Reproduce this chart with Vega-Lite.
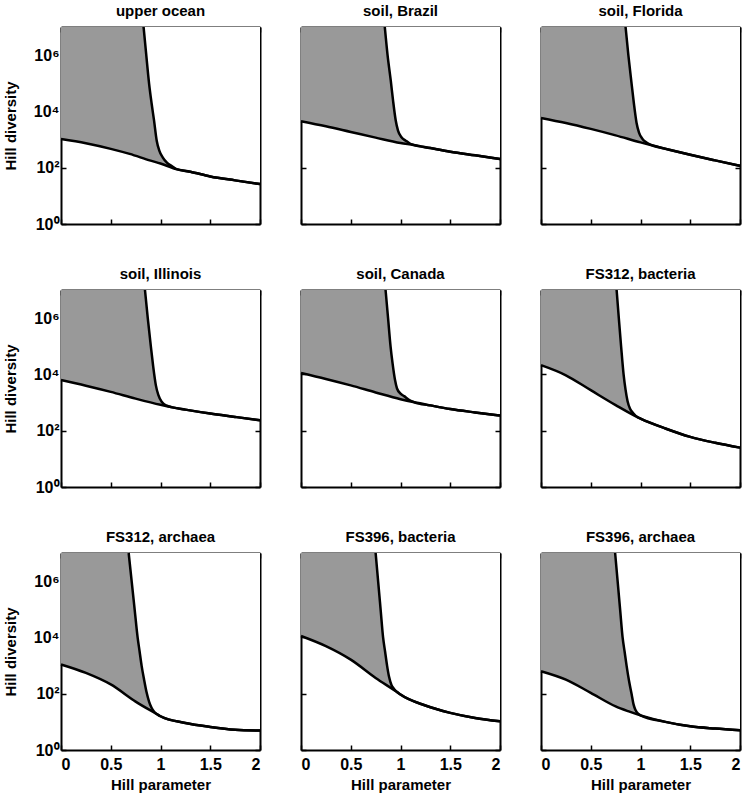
{
  "$schema": "https://vega.github.io/schema/vega-lite/v6.json",
  "padding": {"left": 3, "top": 4, "right": 2, "bottom": 2},
  "background": "white",
  "data": {"values": [
    {"p":"upper ocean","x":0,"lo":1047},
    {"p":"upper ocean","x":0.25,"lo":741},
    {"p":"upper ocean","x":0.5,"lo":468},
    {"p":"upper ocean","x":0.69,"lo":309},
    {"p":"upper ocean","x":0.9,"lo":178},
    {"p":"upper ocean","x":1,"lo":141},
    {"p":"upper ocean","x":1.16,"lo":89.1,"up":89.1},
    {"p":"upper ocean","x":1.3,"lo":72.4,"up":72.4},
    {"p":"upper ocean","x":1.5,"lo":49,"up":49},
    {"p":"upper ocean","x":1.75,"lo":35.5,"up":35.5},
    {"p":"upper ocean","x":2,"lo":26.3,"up":26.3},
    {"p":"upper ocean","x":0.83,"up":10000000},
    {"p":"upper ocean","x":0.857,"up":1000000},
    {"p":"upper ocean","x":0.885,"up":100000},
    {"p":"upper ocean","x":0.91,"up":19950},
    {"p":"upper ocean","x":0.935,"up":4786},
    {"p":"upper ocean","x":0.962,"up":912},
    {"p":"upper ocean","x":0.988,"up":407},
    {"p":"upper ocean","x":1.022,"up":234},
    {"p":"upper ocean","x":1.062,"up":155},
    {"p":"upper ocean","x":1.113,"up":115},

    {"p":"soil, Brazil","x":0,"lo":4467},
    {"p":"soil, Brazil","x":0.25,"lo":2951},
    {"p":"soil, Brazil","x":0.5,"lo":1862},
    {"p":"soil, Brazil","x":0.75,"lo":1175},
    {"p":"soil, Brazil","x":1,"lo":759},
    {"p":"soil, Brazil","x":1.13,"lo":646,"up":646},
    {"p":"soil, Brazil","x":1.3,"lo":501,"up":501},
    {"p":"soil, Brazil","x":1.5,"lo":372,"up":372},
    {"p":"soil, Brazil","x":1.75,"lo":275,"up":275},
    {"p":"soil, Brazil","x":2,"lo":204,"up":204},
    {"p":"soil, Brazil","x":0.842,"up":10000000},
    {"p":"soil, Brazil","x":0.87,"up":1000000},
    {"p":"soil, Brazil","x":0.902,"up":125900},
    {"p":"soil, Brazil","x":0.925,"up":24550},
    {"p":"soil, Brazil","x":0.952,"up":4786},
    {"p":"soil, Brazil","x":0.975,"up":2089},
    {"p":"soil, Brazil","x":1.01,"up":1202},
    {"p":"soil, Brazil","x":1.053,"up":912},
    {"p":"soil, Brazil","x":1.09,"up":741},

    {"p":"soil, Florida","x":0,"lo":5888},
    {"p":"soil, Florida","x":0.25,"lo":3890},
    {"p":"soil, Florida","x":0.5,"lo":2399},
    {"p":"soil, Florida","x":0.75,"lo":1413},
    {"p":"soil, Florida","x":1,"lo":794},
    {"p":"soil, Florida","x":1.14,"lo":589,"up":589},
    {"p":"soil, Florida","x":1.3,"lo":427,"up":427},
    {"p":"soil, Florida","x":1.5,"lo":288,"up":288},
    {"p":"soil, Florida","x":1.75,"lo":182,"up":182},
    {"p":"soil, Florida","x":2,"lo":117,"up":117},
    {"p":"soil, Florida","x":0.85,"up":10000000},
    {"p":"soil, Florida","x":0.878,"up":1000000},
    {"p":"soil, Florida","x":0.91,"up":100000},
    {"p":"soil, Florida","x":0.933,"up":19950},
    {"p":"soil, Florida","x":0.96,"up":3981},
    {"p":"soil, Florida","x":0.985,"up":1778},
    {"p":"soil, Florida","x":1.02,"up":1047},
    {"p":"soil, Florida","x":1.065,"up":776},
    {"p":"soil, Florida","x":1.1,"up":661},

    {"p":"soil, Illinois","x":0,"lo":6310},
    {"p":"soil, Illinois","x":0.25,"lo":3981},
    {"p":"soil, Illinois","x":0.5,"lo":2399},
    {"p":"soil, Illinois","x":0.75,"lo":1380},
    {"p":"soil, Illinois","x":1,"lo":832},
    {"p":"soil, Illinois","x":1.12,"lo":676,"up":676},
    {"p":"soil, Illinois","x":1.25,"lo":562,"up":562},
    {"p":"soil, Illinois","x":1.5,"lo":407,"up":407},
    {"p":"soil, Illinois","x":1.75,"lo":309,"up":309},
    {"p":"soil, Illinois","x":2,"lo":234,"up":234},
    {"p":"soil, Illinois","x":0.844,"up":10000000},
    {"p":"soil, Illinois","x":0.872,"up":1000000},
    {"p":"soil, Illinois","x":0.903,"up":100000},
    {"p":"soil, Illinois","x":0.926,"up":19950},
    {"p":"soil, Illinois","x":0.953,"up":4169},
    {"p":"soil, Illinois","x":0.978,"up":1862},
    {"p":"soil, Illinois","x":1.012,"up":1072},
    {"p":"soil, Illinois","x":1.055,"up":794},
    {"p":"soil, Illinois","x":1.09,"up":724},

    {"p":"soil, Canada","x":0,"lo":11220},
    {"p":"soil, Canada","x":0.25,"lo":6918},
    {"p":"soil, Canada","x":0.5,"lo":4074},
    {"p":"soil, Canada","x":0.75,"lo":2291},
    {"p":"soil, Canada","x":1,"lo":1318},
    {"p":"soil, Canada","x":1.14,"lo":1023,"up":1023},
    {"p":"soil, Canada","x":1.3,"lo":794,"up":794},
    {"p":"soil, Canada","x":1.5,"lo":589,"up":589},
    {"p":"soil, Canada","x":1.75,"lo":447,"up":447},
    {"p":"soil, Canada","x":2,"lo":347,"up":347},
    {"p":"soil, Canada","x":0.85,"up":10000000},
    {"p":"soil, Canada","x":0.875,"up":1000000},
    {"p":"soil, Canada","x":0.9,"up":100000},
    {"p":"soil, Canada","x":0.92,"up":25120},
    {"p":"soil, Canada","x":0.945,"up":6310},
    {"p":"soil, Canada","x":0.965,"up":3162},
    {"p":"soil, Canada","x":1,"up":2089},
    {"p":"soil, Canada","x":1.04,"up":1660},
    {"p":"soil, Canada","x":1.08,"up":1288},

    {"p":"FS312, bacteria","x":0,"lo":21380},
    {"p":"FS312, bacteria","x":0.25,"lo":9333},
    {"p":"FS312, bacteria","x":0.5,"lo":2754},
    {"p":"FS312, bacteria","x":0.75,"lo":813},
    {"p":"FS312, bacteria","x":0.97,"lo":302,"up":302},
    {"p":"FS312, bacteria","x":1,"lo":269,"up":269},
    {"p":"FS312, bacteria","x":1.25,"lo":120,"up":120},
    {"p":"FS312, bacteria","x":1.5,"lo":60.3,"up":60.3},
    {"p":"FS312, bacteria","x":1.75,"lo":37.2,"up":37.2},
    {"p":"FS312, bacteria","x":2,"lo":25.1,"up":25.1},
    {"p":"FS312, bacteria","x":0.76,"up":10000000},
    {"p":"FS312, bacteria","x":0.782,"up":1000000},
    {"p":"FS312, bacteria","x":0.805,"up":100000},
    {"p":"FS312, bacteria","x":0.83,"up":10000},
    {"p":"FS312, bacteria","x":0.85,"up":2818},
    {"p":"FS312, bacteria","x":0.87,"up":1122},
    {"p":"FS312, bacteria","x":0.895,"up":603},
    {"p":"FS312, bacteria","x":0.925,"up":427},

    {"p":"FS312, archaea","x":0,"lo":1096},
    {"p":"FS312, archaea","x":0.25,"lo":550},
    {"p":"FS312, archaea","x":0.5,"lo":214},
    {"p":"FS312, archaea","x":0.75,"lo":52.5},
    {"p":"FS312, archaea","x":0.98,"lo":17.4,"up":17.4},
    {"p":"FS312, archaea","x":1,"lo":15.8,"up":15.8},
    {"p":"FS312, archaea","x":1.25,"lo":9.12,"up":9.12},
    {"p":"FS312, archaea","x":1.5,"lo":6.61,"up":6.61},
    {"p":"FS312, archaea","x":1.75,"lo":5.25,"up":5.25},
    {"p":"FS312, archaea","x":2,"lo":4.9,"up":4.9},
    {"p":"FS312, archaea","x":0.68,"up":10000000},
    {"p":"FS312, archaea","x":0.71,"up":1000000},
    {"p":"FS312, archaea","x":0.74,"up":100000},
    {"p":"FS312, archaea","x":0.77,"up":10000},
    {"p":"FS312, archaea","x":0.79,"up":3162},
    {"p":"FS312, archaea","x":0.81,"up":1000},
    {"p":"FS312, archaea","x":0.835,"up":316},
    {"p":"FS312, archaea","x":0.86,"up":112},
    {"p":"FS312, archaea","x":0.885,"up":52.5},
    {"p":"FS312, archaea","x":0.91,"up":31.6},
    {"p":"FS312, archaea","x":0.94,"up":21.9},

    {"p":"FS396, bacteria","x":0,"lo":11220},
    {"p":"FS396, bacteria","x":0.25,"lo":4898},
    {"p":"FS396, bacteria","x":0.5,"lo":1622},
    {"p":"FS396, bacteria","x":0.75,"lo":363},
    {"p":"FS396, bacteria","x":0.98,"lo":105,"up":105},
    {"p":"FS396, bacteria","x":1,"lo":93.3,"up":93.3},
    {"p":"FS396, bacteria","x":1.25,"lo":38,"up":38},
    {"p":"FS396, bacteria","x":1.5,"lo":20.9,"up":20.9},
    {"p":"FS396, bacteria","x":1.75,"lo":13.8,"up":13.8},
    {"p":"FS396, bacteria","x":2,"lo":10.5,"up":10.5},
    {"p":"FS396, bacteria","x":0.75,"up":10000000},
    {"p":"FS396, bacteria","x":0.775,"up":1000000},
    {"p":"FS396, bacteria","x":0.8,"up":100000},
    {"p":"FS396, bacteria","x":0.825,"up":10000},
    {"p":"FS396, bacteria","x":0.845,"up":3162},
    {"p":"FS396, bacteria","x":0.865,"up":1000},
    {"p":"FS396, bacteria","x":0.885,"up":398},
    {"p":"FS396, bacteria","x":0.91,"up":200},
    {"p":"FS396, bacteria","x":0.935,"up":148},

    {"p":"FS396, archaea","x":0,"lo":631},
    {"p":"FS396, archaea","x":0.25,"lo":316},
    {"p":"FS396, archaea","x":0.5,"lo":107},
    {"p":"FS396, archaea","x":0.75,"lo":35.5},
    {"p":"FS396, archaea","x":0.875,"lo":24},
    {"p":"FS396, archaea","x":1,"lo":17,"up":17},
    {"p":"FS396, archaea","x":1.25,"lo":10,"up":10},
    {"p":"FS396, archaea","x":1.5,"lo":6.92,"up":6.92},
    {"p":"FS396, archaea","x":1.75,"lo":5.75,"up":5.75},
    {"p":"FS396, archaea","x":2,"lo":5.01,"up":5.01},
    {"p":"FS396, archaea","x":0.745,"up":10000000},
    {"p":"FS396, archaea","x":0.77,"up":1000000},
    {"p":"FS396, archaea","x":0.795,"up":100000},
    {"p":"FS396, archaea","x":0.82,"up":10000},
    {"p":"FS396, archaea","x":0.84,"up":3162},
    {"p":"FS396, archaea","x":0.86,"up":1000},
    {"p":"FS396, archaea","x":0.885,"up":282},
    {"p":"FS396, archaea","x":0.91,"up":100},
    {"p":"FS396, archaea","x":0.93,"up":41.7},
    {"p":"FS396, archaea","x":0.95,"up":26.3},
    {"p":"FS396, archaea","x":0.975,"up":19.5}
  ]},
  "columns": 3,
  "spacing": {"row": 66, "column": 41},
  "bounds": "flush",
  "concat": [
    {"title": "upper ocean", "transform": [{"filter": "datum.p === 'upper ocean'"}],
     "layer": [
      {"transform":[{"filter":"isValid(datum.lo)"}],"mark":{"type":"area","color":"#999999","interpolate":"monotone"},
       "encoding":{"x":{"field":"x","type":"quantitative","scale":{"domain":[0,2],"nice":false},"axis":{"values":[0,0.5,1,1.5,2],"format":"~g","labels":false,"title":null}},
        "y":{"field":"lo","type":"quantitative","scale":{"type":"log","domain":[1,10000000]},"axis":{"values":[1,100,10000,1000000],"labels":true,"labelExpr":"datum.value >= 1000000 ? '10⁶' : datum.value >= 10000 ? '10⁴' : datum.value >= 100 ? '10²' : '10⁰'","title":"Hill diversity"}},
        "y2":{"datum":10000000}}},
      {"transform":[{"filter":"isValid(datum.up)"}],"mark":{"type":"area","color":"white","interpolate":"monotone"},
       "encoding":{"x":{"field":"x","type":"quantitative","axis":null},"y":{"field":"up","type":"quantitative","axis":null},"y2":{"datum":10000000}}},
      {"transform":[{"filter":"isValid(datum.lo)"}],"mark":{"type":"line","color":"black","strokeWidth":2.5,"interpolate":"monotone"},
       "encoding":{"x":{"field":"x","type":"quantitative","axis":null},"y":{"field":"lo","type":"quantitative","axis":null}}},
      {"transform":[{"filter":"isValid(datum.up)"}],"mark":{"type":"line","color":"black","strokeWidth":2.5,"interpolate":"monotone"},
       "encoding":{"x":{"field":"x","type":"quantitative","axis":{"orient":"top","values":[0,0.5,1,1.5,2],"labels":false,"title":null}},"y":{"field":"up","type":"quantitative","axis":{"orient":"right","values":[1,100,10000,1000000],"labels":false,"title":null}}}}
     ],
     "resolve":{"axis":{"x":"independent","y":"independent"}}},
    {"title": "soil, Brazil", "transform": [{"filter": "datum.p === 'soil, Brazil'"}],
     "layer": [
      {"transform":[{"filter":"isValid(datum.lo)"}],"mark":{"type":"area","color":"#999999","interpolate":"monotone"},
       "encoding":{"x":{"field":"x","type":"quantitative","scale":{"domain":[0,2],"nice":false},"axis":{"values":[0,0.5,1,1.5,2],"format":"~g","labels":false,"title":null}},
        "y":{"field":"lo","type":"quantitative","scale":{"type":"log","domain":[1,10000000]},"axis":{"values":[1,100,10000,1000000],"labels":false,"title":null}},
        "y2":{"datum":10000000}}},
      {"transform":[{"filter":"isValid(datum.up)"}],"mark":{"type":"area","color":"white","interpolate":"monotone"},
       "encoding":{"x":{"field":"x","type":"quantitative","axis":null},"y":{"field":"up","type":"quantitative","axis":null},"y2":{"datum":10000000}}},
      {"transform":[{"filter":"isValid(datum.lo)"}],"mark":{"type":"line","color":"black","strokeWidth":2.5,"interpolate":"monotone"},
       "encoding":{"x":{"field":"x","type":"quantitative","axis":null},"y":{"field":"lo","type":"quantitative","axis":null}}},
      {"transform":[{"filter":"isValid(datum.up)"}],"mark":{"type":"line","color":"black","strokeWidth":2.5,"interpolate":"monotone"},
       "encoding":{"x":{"field":"x","type":"quantitative","axis":{"orient":"top","values":[0,0.5,1,1.5,2],"labels":false,"title":null}},"y":{"field":"up","type":"quantitative","axis":{"orient":"right","values":[1,100,10000,1000000],"labels":false,"title":null}}}}
     ],
     "resolve":{"axis":{"x":"independent","y":"independent"}}},
    {"title": "soil, Florida", "transform": [{"filter": "datum.p === 'soil, Florida'"}],
     "layer": [
      {"transform":[{"filter":"isValid(datum.lo)"}],"mark":{"type":"area","color":"#999999","interpolate":"monotone"},
       "encoding":{"x":{"field":"x","type":"quantitative","scale":{"domain":[0,2],"nice":false},"axis":{"values":[0,0.5,1,1.5,2],"format":"~g","labels":false,"title":null}},
        "y":{"field":"lo","type":"quantitative","scale":{"type":"log","domain":[1,10000000]},"axis":{"values":[1,100,10000,1000000],"labels":false,"title":null}},
        "y2":{"datum":10000000}}},
      {"transform":[{"filter":"isValid(datum.up)"}],"mark":{"type":"area","color":"white","interpolate":"monotone"},
       "encoding":{"x":{"field":"x","type":"quantitative","axis":null},"y":{"field":"up","type":"quantitative","axis":null},"y2":{"datum":10000000}}},
      {"transform":[{"filter":"isValid(datum.lo)"}],"mark":{"type":"line","color":"black","strokeWidth":2.5,"interpolate":"monotone"},
       "encoding":{"x":{"field":"x","type":"quantitative","axis":null},"y":{"field":"lo","type":"quantitative","axis":null}}},
      {"transform":[{"filter":"isValid(datum.up)"}],"mark":{"type":"line","color":"black","strokeWidth":2.5,"interpolate":"monotone"},
       "encoding":{"x":{"field":"x","type":"quantitative","axis":{"orient":"top","values":[0,0.5,1,1.5,2],"labels":false,"title":null}},"y":{"field":"up","type":"quantitative","axis":{"orient":"right","values":[1,100,10000,1000000],"labels":false,"title":null}}}}
     ],
     "resolve":{"axis":{"x":"independent","y":"independent"}}},
    {"title": "soil, Illinois", "transform": [{"filter": "datum.p === 'soil, Illinois'"}],
     "layer": [
      {"transform":[{"filter":"isValid(datum.lo)"}],"mark":{"type":"area","color":"#999999","interpolate":"monotone"},
       "encoding":{"x":{"field":"x","type":"quantitative","scale":{"domain":[0,2],"nice":false},"axis":{"values":[0,0.5,1,1.5,2],"format":"~g","labels":false,"title":null}},
        "y":{"field":"lo","type":"quantitative","scale":{"type":"log","domain":[1,10000000]},"axis":{"values":[1,100,10000,1000000],"labels":true,"labelExpr":"datum.value >= 1000000 ? '10⁶' : datum.value >= 10000 ? '10⁴' : datum.value >= 100 ? '10²' : '10⁰'","title":"Hill diversity"}},
        "y2":{"datum":10000000}}},
      {"transform":[{"filter":"isValid(datum.up)"}],"mark":{"type":"area","color":"white","interpolate":"monotone"},
       "encoding":{"x":{"field":"x","type":"quantitative","axis":null},"y":{"field":"up","type":"quantitative","axis":null},"y2":{"datum":10000000}}},
      {"transform":[{"filter":"isValid(datum.lo)"}],"mark":{"type":"line","color":"black","strokeWidth":2.5,"interpolate":"monotone"},
       "encoding":{"x":{"field":"x","type":"quantitative","axis":null},"y":{"field":"lo","type":"quantitative","axis":null}}},
      {"transform":[{"filter":"isValid(datum.up)"}],"mark":{"type":"line","color":"black","strokeWidth":2.5,"interpolate":"monotone"},
       "encoding":{"x":{"field":"x","type":"quantitative","axis":{"orient":"top","values":[0,0.5,1,1.5,2],"labels":false,"title":null}},"y":{"field":"up","type":"quantitative","axis":{"orient":"right","values":[1,100,10000,1000000],"labels":false,"title":null}}}}
     ],
     "resolve":{"axis":{"x":"independent","y":"independent"}}},
    {"title": "soil, Canada", "transform": [{"filter": "datum.p === 'soil, Canada'"}],
     "layer": [
      {"transform":[{"filter":"isValid(datum.lo)"}],"mark":{"type":"area","color":"#999999","interpolate":"monotone"},
       "encoding":{"x":{"field":"x","type":"quantitative","scale":{"domain":[0,2],"nice":false},"axis":{"values":[0,0.5,1,1.5,2],"format":"~g","labels":false,"title":null}},
        "y":{"field":"lo","type":"quantitative","scale":{"type":"log","domain":[1,10000000]},"axis":{"values":[1,100,10000,1000000],"labels":false,"title":null}},
        "y2":{"datum":10000000}}},
      {"transform":[{"filter":"isValid(datum.up)"}],"mark":{"type":"area","color":"white","interpolate":"monotone"},
       "encoding":{"x":{"field":"x","type":"quantitative","axis":null},"y":{"field":"up","type":"quantitative","axis":null},"y2":{"datum":10000000}}},
      {"transform":[{"filter":"isValid(datum.lo)"}],"mark":{"type":"line","color":"black","strokeWidth":2.5,"interpolate":"monotone"},
       "encoding":{"x":{"field":"x","type":"quantitative","axis":null},"y":{"field":"lo","type":"quantitative","axis":null}}},
      {"transform":[{"filter":"isValid(datum.up)"}],"mark":{"type":"line","color":"black","strokeWidth":2.5,"interpolate":"monotone"},
       "encoding":{"x":{"field":"x","type":"quantitative","axis":{"orient":"top","values":[0,0.5,1,1.5,2],"labels":false,"title":null}},"y":{"field":"up","type":"quantitative","axis":{"orient":"right","values":[1,100,10000,1000000],"labels":false,"title":null}}}}
     ],
     "resolve":{"axis":{"x":"independent","y":"independent"}}},
    {"title": "FS312, bacteria", "transform": [{"filter": "datum.p === 'FS312, bacteria'"}],
     "layer": [
      {"transform":[{"filter":"isValid(datum.lo)"}],"mark":{"type":"area","color":"#999999","interpolate":"monotone"},
       "encoding":{"x":{"field":"x","type":"quantitative","scale":{"domain":[0,2],"nice":false},"axis":{"values":[0,0.5,1,1.5,2],"format":"~g","labels":false,"title":null}},
        "y":{"field":"lo","type":"quantitative","scale":{"type":"log","domain":[1,10000000]},"axis":{"values":[1,100,10000,1000000],"labels":false,"title":null}},
        "y2":{"datum":10000000}}},
      {"transform":[{"filter":"isValid(datum.up)"}],"mark":{"type":"area","color":"white","interpolate":"monotone"},
       "encoding":{"x":{"field":"x","type":"quantitative","axis":null},"y":{"field":"up","type":"quantitative","axis":null},"y2":{"datum":10000000}}},
      {"transform":[{"filter":"isValid(datum.lo)"}],"mark":{"type":"line","color":"black","strokeWidth":2.5,"interpolate":"monotone"},
       "encoding":{"x":{"field":"x","type":"quantitative","axis":null},"y":{"field":"lo","type":"quantitative","axis":null}}},
      {"transform":[{"filter":"isValid(datum.up)"}],"mark":{"type":"line","color":"black","strokeWidth":2.5,"interpolate":"monotone"},
       "encoding":{"x":{"field":"x","type":"quantitative","axis":{"orient":"top","values":[0,0.5,1,1.5,2],"labels":false,"title":null}},"y":{"field":"up","type":"quantitative","axis":{"orient":"right","values":[1,100,10000,1000000],"labels":false,"title":null}}}}
     ],
     "resolve":{"axis":{"x":"independent","y":"independent"}}},
    {"title": "FS312, archaea", "transform": [{"filter": "datum.p === 'FS312, archaea'"}],
     "layer": [
      {"transform":[{"filter":"isValid(datum.lo)"}],"mark":{"type":"area","color":"#999999","interpolate":"monotone"},
       "encoding":{"x":{"field":"x","type":"quantitative","scale":{"domain":[0,2],"nice":false},"axis":{"values":[0,0.5,1,1.5,2],"format":"~g","labels":true,"title":"Hill parameter"}},
        "y":{"field":"lo","type":"quantitative","scale":{"type":"log","domain":[1,10000000]},"axis":{"values":[1,100,10000,1000000],"labels":true,"labelExpr":"datum.value >= 1000000 ? '10⁶' : datum.value >= 10000 ? '10⁴' : datum.value >= 100 ? '10²' : '10⁰'","title":"Hill diversity"}},
        "y2":{"datum":10000000}}},
      {"transform":[{"filter":"isValid(datum.up)"}],"mark":{"type":"area","color":"white","interpolate":"monotone"},
       "encoding":{"x":{"field":"x","type":"quantitative","axis":null},"y":{"field":"up","type":"quantitative","axis":null},"y2":{"datum":10000000}}},
      {"transform":[{"filter":"isValid(datum.lo)"}],"mark":{"type":"line","color":"black","strokeWidth":2.5,"interpolate":"monotone"},
       "encoding":{"x":{"field":"x","type":"quantitative","axis":null},"y":{"field":"lo","type":"quantitative","axis":null}}},
      {"transform":[{"filter":"isValid(datum.up)"}],"mark":{"type":"line","color":"black","strokeWidth":2.5,"interpolate":"monotone"},
       "encoding":{"x":{"field":"x","type":"quantitative","axis":{"orient":"top","values":[0,0.5,1,1.5,2],"labels":false,"title":null}},"y":{"field":"up","type":"quantitative","axis":{"orient":"right","values":[1,100,10000,1000000],"labels":false,"title":null}}}}
     ],
     "resolve":{"axis":{"x":"independent","y":"independent"}}},
    {"title": "FS396, bacteria", "transform": [{"filter": "datum.p === 'FS396, bacteria'"}],
     "layer": [
      {"transform":[{"filter":"isValid(datum.lo)"}],"mark":{"type":"area","color":"#999999","interpolate":"monotone"},
       "encoding":{"x":{"field":"x","type":"quantitative","scale":{"domain":[0,2],"nice":false},"axis":{"values":[0,0.5,1,1.5,2],"format":"~g","labels":true,"title":"Hill parameter"}},
        "y":{"field":"lo","type":"quantitative","scale":{"type":"log","domain":[1,10000000]},"axis":{"values":[1,100,10000,1000000],"labels":false,"title":null}},
        "y2":{"datum":10000000}}},
      {"transform":[{"filter":"isValid(datum.up)"}],"mark":{"type":"area","color":"white","interpolate":"monotone"},
       "encoding":{"x":{"field":"x","type":"quantitative","axis":null},"y":{"field":"up","type":"quantitative","axis":null},"y2":{"datum":10000000}}},
      {"transform":[{"filter":"isValid(datum.lo)"}],"mark":{"type":"line","color":"black","strokeWidth":2.5,"interpolate":"monotone"},
       "encoding":{"x":{"field":"x","type":"quantitative","axis":null},"y":{"field":"lo","type":"quantitative","axis":null}}},
      {"transform":[{"filter":"isValid(datum.up)"}],"mark":{"type":"line","color":"black","strokeWidth":2.5,"interpolate":"monotone"},
       "encoding":{"x":{"field":"x","type":"quantitative","axis":{"orient":"top","values":[0,0.5,1,1.5,2],"labels":false,"title":null}},"y":{"field":"up","type":"quantitative","axis":{"orient":"right","values":[1,100,10000,1000000],"labels":false,"title":null}}}}
     ],
     "resolve":{"axis":{"x":"independent","y":"independent"}}},
    {"title": "FS396, archaea", "transform": [{"filter": "datum.p === 'FS396, archaea'"}],
     "layer": [
      {"transform":[{"filter":"isValid(datum.lo)"}],"mark":{"type":"area","color":"#999999","interpolate":"monotone"},
       "encoding":{"x":{"field":"x","type":"quantitative","scale":{"domain":[0,2],"nice":false},"axis":{"values":[0,0.5,1,1.5,2],"format":"~g","labels":true,"title":"Hill parameter"}},
        "y":{"field":"lo","type":"quantitative","scale":{"type":"log","domain":[1,10000000]},"axis":{"values":[1,100,10000,1000000],"labels":false,"title":null}},
        "y2":{"datum":10000000}}},
      {"transform":[{"filter":"isValid(datum.up)"}],"mark":{"type":"area","color":"white","interpolate":"monotone"},
       "encoding":{"x":{"field":"x","type":"quantitative","axis":null},"y":{"field":"up","type":"quantitative","axis":null},"y2":{"datum":10000000}}},
      {"transform":[{"filter":"isValid(datum.lo)"}],"mark":{"type":"line","color":"black","strokeWidth":2.5,"interpolate":"monotone"},
       "encoding":{"x":{"field":"x","type":"quantitative","axis":null},"y":{"field":"lo","type":"quantitative","axis":null}}},
      {"transform":[{"filter":"isValid(datum.up)"}],"mark":{"type":"line","color":"black","strokeWidth":2.5,"interpolate":"monotone"},
       "encoding":{"x":{"field":"x","type":"quantitative","axis":{"orient":"top","values":[0,0.5,1,1.5,2],"labels":false,"title":null}},"y":{"field":"up","type":"quantitative","axis":{"orient":"right","values":[1,100,10000,1000000],"labels":false,"title":null}}}}
     ],
     "resolve":{"axis":{"x":"independent","y":"independent"}}}
  ],
  "config": {
    "view": {"continuousWidth": 199, "continuousHeight": 197, "stroke": null},
    "axis": {"domain": true, "domainColor": "black", "domainWidth": 2, "grid": false, "ticks": true, "tickSize": -5, "tickWidth": 1.5, "tickColor": "black",
             "labelFont": "Liberation Sans", "labelFontSize": 16, "labelFontWeight": "bold", "labelColor": "black", "labelPadding": 7,
             "titleFont": "Liberation Sans", "titleFontSize": 15, "titleFontWeight": "bold", "titleColor": "black", "titlePadding": 15, "zindex": 1},
    "axisBottom": {"labelPadding": 11, "titlePadding": 5},
    "title": {"font": "Liberation Sans", "fontSize": 15, "fontWeight": "bold", "color": "black", "offset": 3}
  }
}
